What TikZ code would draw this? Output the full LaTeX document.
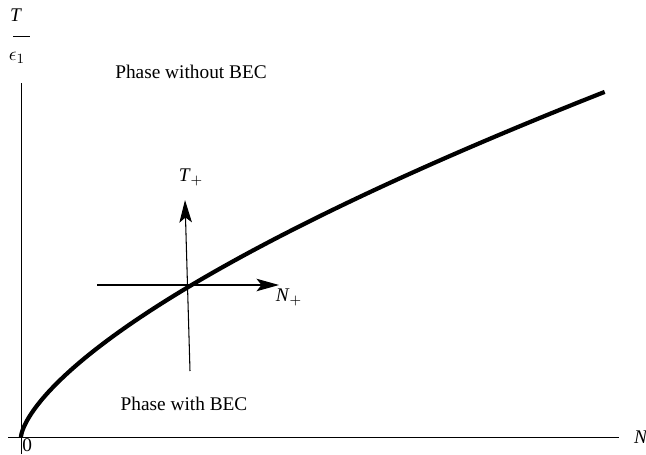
\documentclass[tikz,border=0pt]{standalone}
\usepackage{fontspec}
\setmainfont{Liberation Serif}
\usetikzlibrary{arrows.meta, positioning}

\begin{document}
\begin{tikzpicture}[x=0.02cm, y=0.02cm,
    axis/.style={line width=0.5pt},
    phaseline/.style={line width=2.4pt},
    probe/.style={line width=0.6pt, -{Stealth[length=0.45cm, width=0.25cm, inset=0.1cm]}},
    lbl/.style={font=\fontsize{11}{13}\selectfont, inner sep=1pt}]
  \useasboundingbox (0,0) rectangle (646,454);
  % axes
  \coordinate (O) at (21,17);
  \coordinate (xl) at (8,17);
  \coordinate (xr) at (619,17);
  \coordinate (yb) at (21,0);
  \coordinate (yt) at (21,371);
  \draw[axis] (xl) -- (xr);
  \draw[axis] (yb) -- (yt);
  \node[lbl, anchor=west] (nlab) at (632,17) {\textit{N}};
  \node[lbl, anchor=north west, inner sep=0pt] (zero) at (22,16) {0};
  % T / eps_1 label
  \node[lbl] (tlab) at (16,439) {\textit{T}};
  \node[lbl] (epslab) at (17,396) {$\epsilon_1$};
  \coordinate (barl) at (13,418);
  \coordinate (barr) at (30,418);
  \draw[axis] (barl) -- (barr);
  % transition line
  \draw[phaseline] plot[domain=0:1, samples=120, variable=\t] ({21+586*\t^3}, {17+346*\t^2});
  % probe directions
  \coordinate (hs) at (97,169);
  \coordinate (he) at (279,169);
  \coordinate (vs) at (190,83);
  \coordinate (ve) at (185,254);
  \draw[probe] (hs) -- (he);
  \draw[probe] (vs) -- (ve);
  \node[lbl] (tplus) at (191,277) {\textit{T}$_{+}$};
  \node[lbl] (nplus) at (289,157) {\textit{N}$_{+}$};
  % phases
  \node[lbl] (nobec) at (191,382) {Phase without BEC};
  \node[lbl] (bec) at (184,50) {Phase with BEC};
\end{tikzpicture}
\end{document}
